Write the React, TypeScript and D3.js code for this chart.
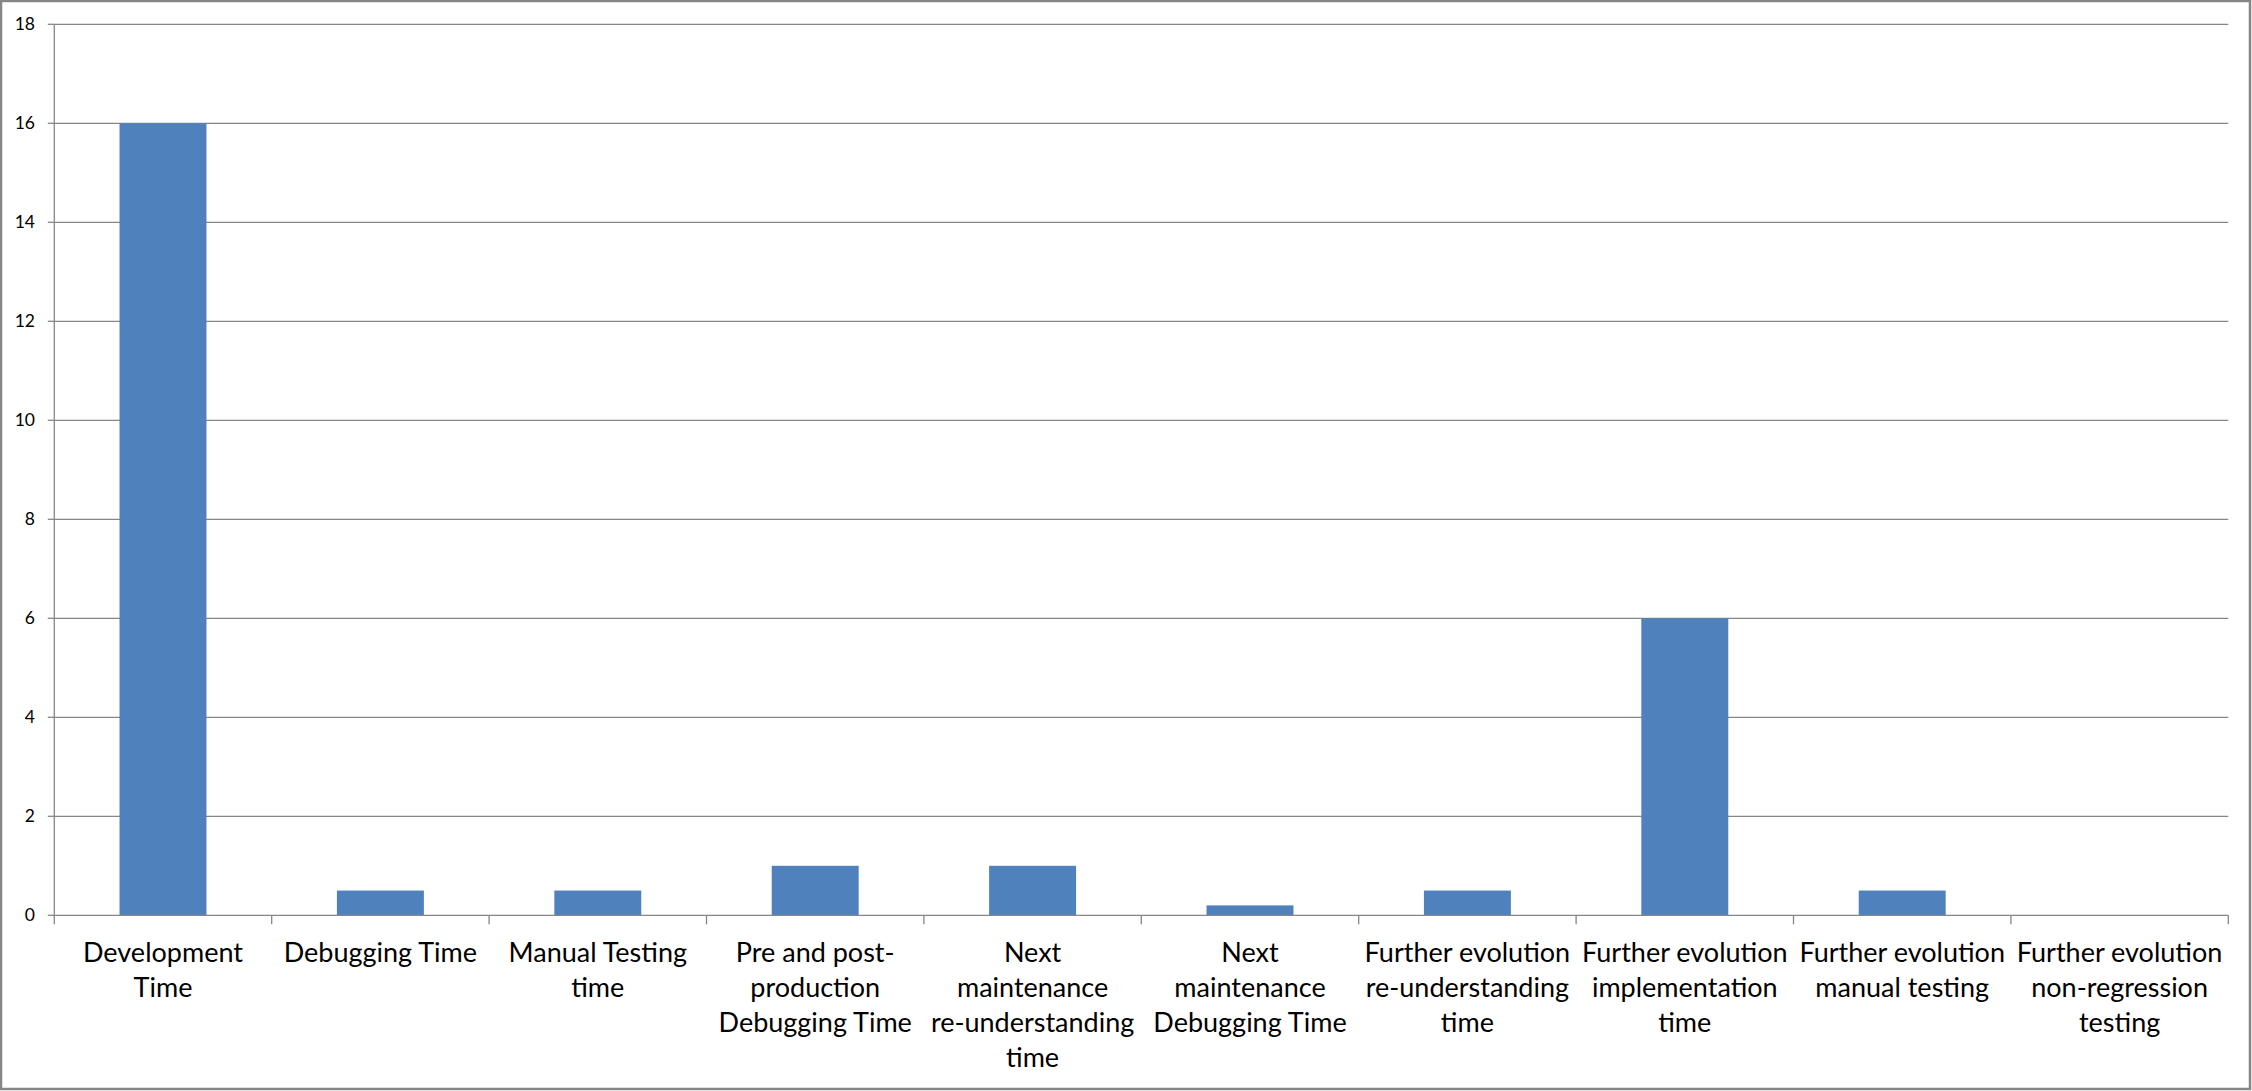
import React from "react";
import * as d3 from "d3";

const categories: string[][] = [
  ["Development", "Time"],
  ["Debugging Time"],
  ["Manual Testing", "time"],
  ["Pre and post-", "production", "Debugging Time"],
  ["Next", "maintenance", "re-understanding", "time"],
  ["Next", "maintenance", "Debugging Time"],
  ["Further evolution", "re-understanding", "time"],
  ["Further evolution", "implementation", "time"],
  ["Further evolution", "manual testing"],
  ["Further evolution", "non-regression", "testing"],
];
const values: number[] = [16, 0.5, 0.5, 1, 1, 0.2, 0.5, 6, 0.5, 0];
const yTicks: number[] = [0, 2, 4, 6, 8, 10, 12, 14, 16, 18];

const W = 2252;
const H = 1091;
const left = 54.3;
const right = 2228.3;
const top = 24.3;
const bottom = 915.3;
const axisColor = "#868686";
const barColor = "#4F81BD";
const font = "Lato, 'Open Sans', sans-serif";

export default function App() {
  const keys = categories.map((_, i) => String(i));
  const x = d3.scaleBand<string>().domain(keys).range([left, right]).paddingInner(0.6).paddingOuter(0.3);
  const band = d3.scaleBand<string>().domain(keys).range([left, right]).padding(0);
  const y = d3.scaleLinear().domain([0, 18]).range([bottom, top]);
  const boundaries = d3.range(categories.length + 1).map((i) => left + i * band.step());

  return (
    <svg
      width={W}
      height={H}
      style={{ position: "absolute", left: 0, top: 0, display: "block", background: "#fff" }}
    >
      <rect x={1} y={1} width={W - 3} height={H - 3} fill="#fff" stroke={axisColor} strokeWidth={2.5} />
      {yTicks.filter((t) => t > 0).map((t) => (
        <line key={"g" + t} x1={left} x2={right} y1={y(t)} y2={y(t)} stroke={axisColor} strokeWidth={1.3} />
      ))}
      {values.map((v, i) => (
        <rect key={"b" + i} x={x(String(i))} y={y(v)} width={x.bandwidth()} height={y(0) - y(v)} fill={barColor} />
      ))}
      <line x1={left} x2={left} y1={top} y2={bottom} stroke={axisColor} strokeWidth={1.3} />
      <line x1={left} x2={right} y1={bottom} y2={bottom} stroke={axisColor} strokeWidth={1.3} />
      {yTicks.map((t) => (
        <g key={"t" + t}>
          <line x1={left - 6.5} x2={left} y1={y(t)} y2={y(t)} stroke={axisColor} strokeWidth={1.3} />
          <text x={35} y={y(t) + 6} textAnchor="end" fontFamily={font} fontSize={17.5} fill="#000">
            {t}
          </text>
        </g>
      ))}
      {boundaries.map((bx, i) => (
        <line key={"xt" + i} x1={bx} x2={bx} y1={bottom} y2={bottom + 9} stroke={axisColor} strokeWidth={1.3} />
      ))}
      {categories.map((lines, i) => (
        <text
          key={"c" + i}
          x={(band(String(i)) as number) + band.bandwidth() / 2}
          textAnchor="middle"
          fontFamily={font}
          fontSize={27}
          fill="#000"
        >
          {lines.map((ln, j) => (
            <tspan key={j} x={(band(String(i)) as number) + band.bandwidth() / 2} y={961.5 + j * 35.2}>
              {ln}
            </tspan>
          ))}
        </text>
      ))}
    </svg>
  );
}
